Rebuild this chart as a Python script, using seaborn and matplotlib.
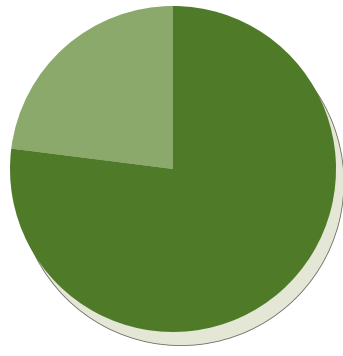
import matplotlib
matplotlib.use('Agg')
import matplotlib.pyplot as plt
import seaborn as sns
import pandas as pd

# two shares of one whole
labels = ['Minor share', 'Major share']
shares = [23, 77]
colors = ['#8aa96a', '#4f7a27']

df = pd.DataFrame({'label': labels, 'share': shares})

sns.set_theme(style='white')

fig = plt.figure(figsize=(3.43, 3.56), dpi=100)
ax = fig.add_axes([0, 0, 1, 1])

ax.pie(df['share'], colors=colors, startangle=90, counterclock=True,
       wedgeprops={'linewidth': 0},
       shadow={'ox': 0.035, 'oy': -0.06, 'facecolor': '#e4e7d6',
               'edgecolor': '#6a6a60', 'linewidth': 0.6, 'alpha': 1})

ax.set_xlim(-173 / 163, 170 / 163)
ax.set_ylim(-187 / 163, 169 / 163)
ax.set_aspect('auto')
ax.axis('off')

fig.savefig('out.png', dpi=100)
